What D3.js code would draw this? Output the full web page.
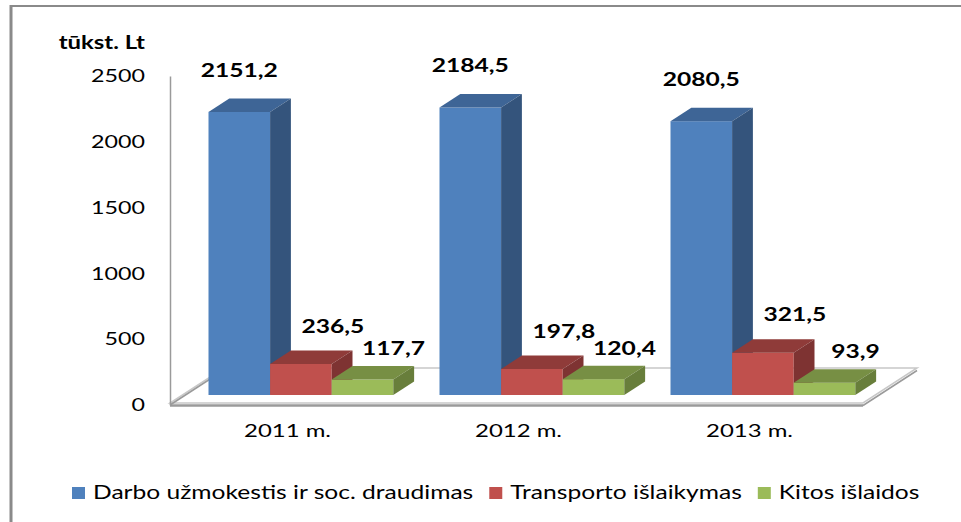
<!DOCTYPE html>
<html>
<head>
<meta charset="utf-8">
<script src="https://cdn.jsdelivr.net/npm/d3@7"></script>
<style>
  body { margin: 0; background: #fff; }
  svg { display: block; }
  text { font-family: Lato, "Open Sans", sans-serif; fill: #000; }
</style>
</head>
<body>
<script>
// data
const categories = ['2011 m.', '2012 m.', '2013 m.'];
const seriesNames = ['Darbo užmokestis ir soc. draudimas', 'Transporto išlaikymas', 'Kitos išlaidos'];
const darbo = [2151.2, 2184.5, 2080.5];
const transportas = [236.5, 197.8, 321.5];
const kitos = [117.7, 120.4, 93.9];
const yTicks = [0, 500, 1000, 1500, 2000, 2500];
const unitLabel = 'tūkst. Lt';

const WIDTH = 961;
const HEIGHT = 522;
const SX = 1.33;            // the picture is stretched sideways, so is the text

const PLOT_LEFT = 170, PLOT_RIGHT = 863;
const BASE_Y = 405, TOP_Y = 76;
const DEPTH = {x: 54, y: -35};                 // floor depth
const BAR_OFF = {x: 15.4, y: -10};             // bars stand a bit back from the front edge
const BAR_DEPTH = {x: 20.8, y: -13.5};

const colors = [
  {front: '#4f81bd', top: '#3e6596', side: '#34547c'},
  {front: '#c0504d', top: '#8f3b39', side: '#7e3332'},
  {front: '#9bbb59', top: '#778f44', side: '#687e3b'}
];
// where the value label sits relative to the front-top of its bar
const labelShift = [{x: 0, y: -42}, {x: 32, y: -38}, {x: 31, y: -31}];

const data = [darbo, transportas, kitos];
const locale = d3.formatLocale({decimal: ',', thousands: '', grouping: [3], currency: ['', '']});
const fmt = locale.format('.1f');

const svg = d3.select('body').append('svg')
  .attr('width', WIDTH)
  .attr('height', HEIGHT);

// frame
svg.append('line').attr('x1', 11).attr('y1', 6).attr('x2', WIDTH).attr('y2', 6)
  .attr('stroke', '#8a8a8a').attr('stroke-width', 2);
svg.append('line').attr('x1', 11).attr('y1', 5).attr('x2', 11).attr('y2', HEIGHT)
  .attr('stroke', '#8a8a8a').attr('stroke-width', 3);

const x0 = d3.scaleBand()
  .domain(categories)
  .range([PLOT_LEFT, PLOT_RIGHT])
  .paddingInner(0.2)
  .paddingOuter(0.1);

const x1 = d3.scaleBand()
  .domain(d3.range(seriesNames.length))
  .range([0, x0.bandwidth()])
  .padding(0);

const y = d3.scaleLinear()
  .domain([0, 2500])
  .range([BASE_Y, TOP_Y]);

// floor
const floor = svg.append('g');
floor.append('polygon')
  .attr('points', [
    [PLOT_LEFT, BASE_Y - 2], [PLOT_RIGHT, BASE_Y - 2],
    [PLOT_RIGHT + DEPTH.x, BASE_Y - 2 + DEPTH.y], [PLOT_LEFT + DEPTH.x, BASE_Y - 2 + DEPTH.y]
  ].join(' '))
  .attr('fill', '#fff')
  .attr('stroke', '#c8c8c8')
  .attr('stroke-width', 1.5);
floor.append('line')
  .attr('x1', PLOT_LEFT).attr('y1', BASE_Y + 0.5)
  .attr('x2', PLOT_RIGHT).attr('y2', BASE_Y + 0.5)
  .attr('stroke', '#9a9a9a').attr('stroke-width', 2.5);
floor.append('line')
  .attr('x1', PLOT_RIGHT).attr('y1', BASE_Y + 0.5)
  .attr('x2', PLOT_RIGHT + DEPTH.x).attr('y2', BASE_Y + 0.5 + DEPTH.y)
  .attr('stroke', '#9a9a9a').attr('stroke-width', 1.5);
floor.append('line')
  .attr('x1', PLOT_LEFT).attr('y1', BASE_Y)
  .attr('x2', PLOT_LEFT + DEPTH.x).attr('y2', BASE_Y + DEPTH.y)
  .attr('stroke', '#9a9a9a').attr('stroke-width', 1.5);

// value axis
const yAxis = svg.append('g')
  .attr('transform', `translate(${PLOT_LEFT},0)`)
  .call(d3.axisLeft(y).tickValues(yTicks).tickFormat(d3.format('d')).tickSize(0).tickPadding(25));
yAxis.select('.domain').attr('stroke', '#9a9a9a').attr('stroke-width', 1.5);
yAxis.selectAll('text')
  .attr('font-family', 'Lato, sans-serif')
  .attr('font-size', 17.5)
  .attr('x', -25 / SX)
  .attr('transform', `scale(${SX},1)`);

svg.append('text')
  .attr('transform', `translate(145,43) scale(${SX},1)`)
  .attr('text-anchor', 'end')
  .attr('dy', '0.35em')
  .attr('font-size', 18)
  .attr('font-weight', 'bold')
  .text(unitLabel);

// category axis
const xAxis = svg.append('g')
  .attr('transform', `translate(0,${BASE_Y})`)
  .call(d3.axisBottom(x0).tickSize(0).tickPadding(19));
xAxis.select('.domain').remove();
xAxis.selectAll('text')
  .attr('font-family', 'Lato, sans-serif')
  .attr('font-size', 18)
  .attr('transform', `scale(${SX},1)`)
  .each(function() {
    const g = this.parentNode;
    const t = g.getAttribute('transform').match(/translate\(([-\d.]+)/);
    d3.select(g).attr('transform', `translate(${+t[1] + 2},0)`);
    d3.select(this).attr('x', 0);
  });

// bars
const bars = [];
categories.forEach((c, j) => {
  seriesNames.forEach((s, i) => {
    bars.push({cat: c, series: i, value: data[i][j]});
  });
});

const barG = svg.append('g');
bars.forEach(d => {
  const xl = x0(d.cat) + x1(d.series) + BAR_OFF.x;
  const w = x1.bandwidth();
  const yt = y(d.value) + BAR_OFF.y;
  const yb = y(0) + BAR_OFF.y;
  const c = colors[d.series];
  const g = barG.append('g');
  g.append('rect')
    .attr('x', xl).attr('y', yt)
    .attr('width', w).attr('height', yb - yt)
    .attr('fill', c.front);
  g.append('polygon')
    .attr('points', [
      [xl, yt], [xl + w, yt],
      [xl + w + BAR_DEPTH.x, yt + BAR_DEPTH.y], [xl + BAR_DEPTH.x, yt + BAR_DEPTH.y]
    ].join(' '))
    .attr('fill', c.top);
  g.append('polygon')
    .attr('points', [
      [xl + w, yt], [xl + w + BAR_DEPTH.x, yt + BAR_DEPTH.y],
      [xl + w + BAR_DEPTH.x, yb + BAR_DEPTH.y], [xl + w, yb]
    ].join(' '))
    .attr('fill', c.side);
});

// value labels
svg.append('g').selectAll('text')
  .data(bars)
  .enter().append('text')
    .attr('transform', d => {
      const cx = x0(d.cat) + x1(d.series) + x1.bandwidth() / 2 + BAR_OFF.x + labelShift[d.series].x;
      const cy = y(d.value) + BAR_OFF.y + labelShift[d.series].y;
      return `translate(${cx},${cy}) scale(${SX},1)`;
    })
    .attr('text-anchor', 'middle')
    .attr('dy', '0.36em')
    .attr('font-size', 18.5)
    .attr('font-weight', 'bold')
    .text(d => fmt(d.value));

// legend
const legend = svg.append('g');
let lx = 72;
seriesNames.forEach((name, i) => {
  legend.append('rect')
    .attr('x', lx).attr('y', 487)
    .attr('width', 13).attr('height', 12)
    .attr('fill', colors[i].front);
  const t = legend.append('text')
    .attr('transform', `translate(${lx + 21},493) scale(${SX},1)`)
    .attr('dy', '0.35em')
    .attr('font-size', 18.5)
    .text(name);
  lx += 21 + t.node().getComputedTextLength() * SX + 16;
});
</script>
</body>
</html>
